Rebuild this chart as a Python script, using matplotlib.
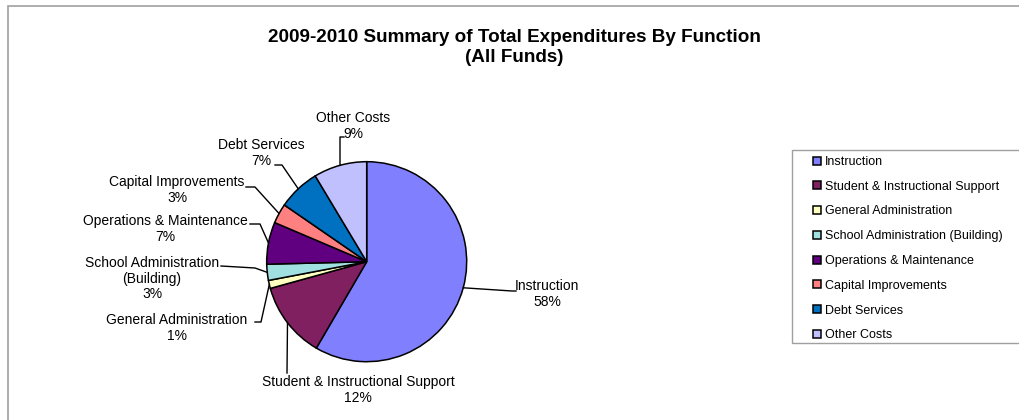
import matplotlib.pyplot as plt
import numpy as np
from matplotlib.patches import Rectangle

plt.rcParams['font.family'] = ['Liberation Sans', 'DejaVu Sans']

W, H = 1019, 420

# datos del grafico (porcentaje del gasto total)
categorias = [
    "Instruction",
    "Student & Instructional Support",
    "General Administration",
    "School Administration (Building)",
    "Operations & Maintenance",
    "Capital Improvements",
    "Debt Services",
    "Other Costs",
]
etiquetas = [
    "Instruction",
    "Student & Instructional Support",
    "General Administration",
    "School Administration\n(Building)",
    "Operations & Maintenance",
    "Capital Improvements",
    "Debt Services",
    "Other Costs",
]
valores = [58.4, 12.3, 1.3, 2.6, 6.8, 3.2, 6.8, 8.6]
colores = ["#8080FF", "#802060", "#FFFFC0", "#A0E0E0",
           "#600080", "#FF8080", "#0070C0", "#C0C0FF"]

# posicion de cada etiqueta y quiebre de la linea guia (pixeles de imagen)
pos_texto = [(547, 294), (358, 390), (177, 328), (152, 278.5),
             (165, 229), (177, 190), (261, 153), (353, 126)]
guias = [
    [(512, 291), (516, 291)],
    [(287, 373)],
    [(261, 322), (255, 322)],
    [(255, 268), (221, 266)],
    [(260, 224), (250, 224)],
    [(255, 187), (246, 187)],
    [(282, 165), (275, 165)],
    [(340, 137), (344, 137)],
]


def px(x, y):
    return x, H - y


fig = plt.figure(figsize=(W / 100, H / 100), dpi=100)
ax = fig.add_axes([0, 0, 1, 1])

cx, cy, r = 366.7, 261.7, 100
wedges, _ = ax.pie(valores, colors=colores, startangle=90, counterclock=False,
                   center=px(cx, cy), radius=r,
                   wedgeprops=dict(edgecolor="black", linewidth=1.1))

total = sum(valores)
for w, lab, v, (tx, ty), pts in zip(wedges, etiquetas, valores, pos_texto, guias):
    ang = np.deg2rad((w.theta1 + w.theta2) / 2)
    x0 = w.center[0] + w.r * np.cos(ang)
    y0 = w.center[1] + w.r * np.sin(ang)
    xs = [x0] + [p[0] for p in pts]
    ys = [y0] + [H - p[1] for p in pts]
    ax.plot(xs, ys, color="black", linewidth=1)
    pct = f"{round(100 * v / total):.0f}%"
    ax.text(*px(tx, ty), f"{lab}\n{pct}", ha="center", va="center",
            fontsize=10, linespacing=1.18, color="black")

# marco del grafico
ax.add_patch(Rectangle(px(8, 430), 1030, 424, fill=False,
                       edgecolor="#A0A0A0", linewidth=1.2))
# marco de la leyenda
ax.add_patch(Rectangle(px(792, 343), 300, 193, fill=False,
                       edgecolor="#A0A0A0", linewidth=1))

ax.set_xlim(0, W)
ax.set_ylim(0, H)
ax.set_aspect("equal")
ax.axis("off")

fig.text(514 / W, 1 - 47.5 / H, "2009-2010 Summary of Total Expenditures By Function\n(All Funds)",
         ha="center", va="center", fontsize=13.6, fontweight="bold", linespacing=1.28)

fig.legend(wedges, categorias, loc="upper left",
           bbox_to_anchor=(803 / W, 1 - 146 / H), frameon=False,
           fontsize=9, handlelength=0.6, handleheight=0.6, handletextpad=0.35,
           labelspacing=1.02, borderpad=0.3)

fig.savefig("out.png", dpi=100)
